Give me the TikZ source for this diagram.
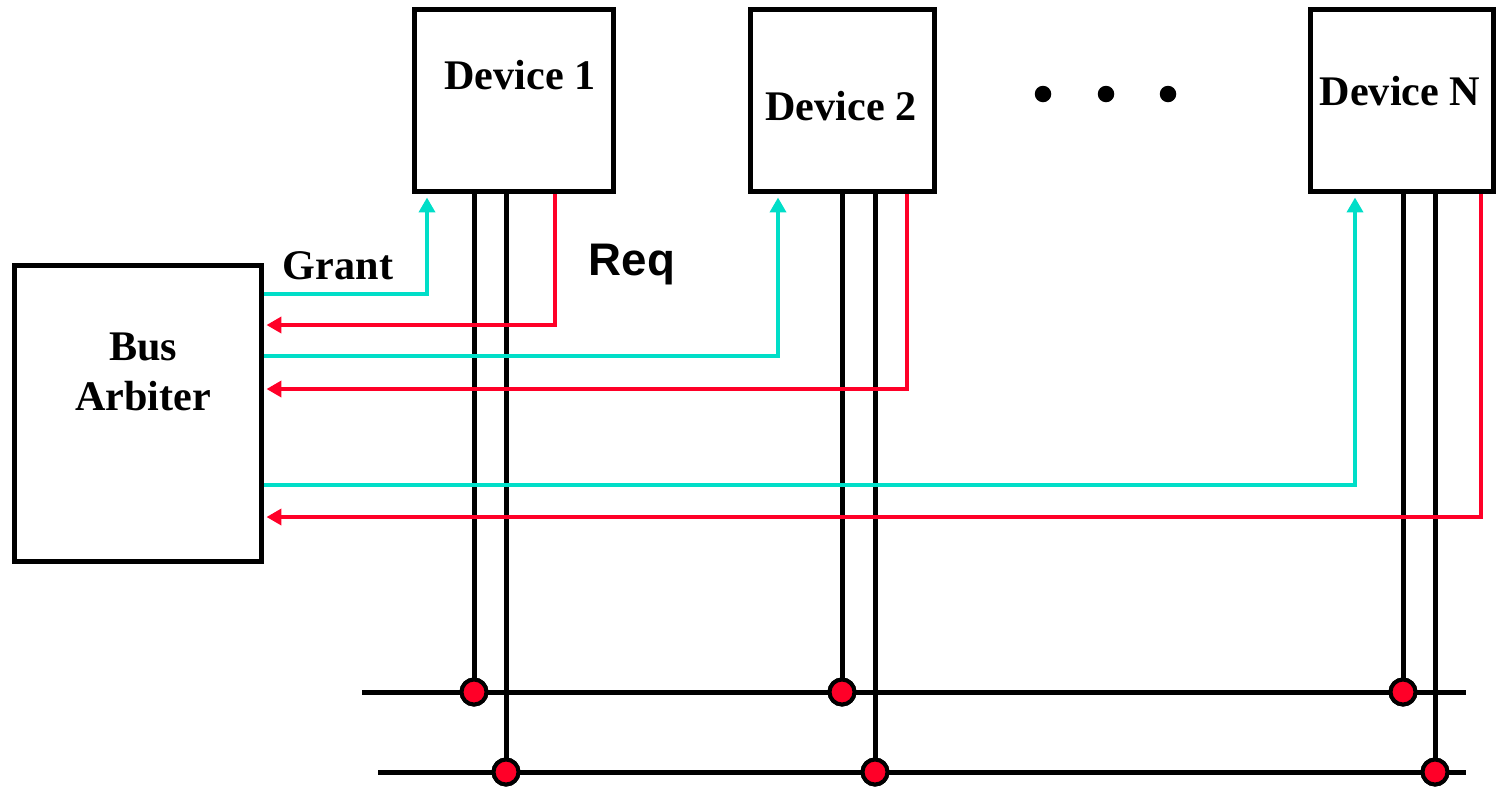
\documentclass[tikz,border=0pt]{standalone}
\usepackage{fontspec}
\setmainfont{Liberation Serif}
\newfontfamily\reqfont{Liberation Sans}
\usepackage{xcolor}
\usepackage{tikz}
\usetikzlibrary{arrows.meta, calc}
\definecolor{grantc}{RGB}{0,222,200}
\definecolor{reqc}{RGB}{255,0,40}
\begin{document}
\begin{tikzpicture}[x=0.02cm,y=-0.02cm,
    box/.style={draw,line width=0.1cm,rectangle,inner sep=0pt},
    lbl/.style={font=\fontsize{24}{29}\selectfont\bfseries,inner sep=0pt},
    wire/.style={line width=0.1cm,black},
    grant/.style={line width=0.085cm,grantc,-{Triangle[length=0.3cm,width=0.32cm]},shorten >=0.06cm},
    req/.style={line width=0.085cm,reqc,-{Triangle[length=0.3cm,width=0.32cm]},shorten >=0.04cm},
    tap/.style={circle,draw,line width=0.08cm,fill=reqc,minimum size=0.5cm,inner sep=0pt},
    dot/.style={circle,fill=black,minimum size=0.33cm,inner sep=0pt}]
            \useasboundingbox (0,0) rectangle (1497,789);
            \node[box,minimum width=4.96cm,minimum height=5.94cm] (arb) at (138,413.5) {};
            \node[box,minimum width=4.0cm,minimum height=3.66cm] (d1) at (514,100.5) {};
            \node[box,minimum width=3.7cm,minimum height=3.66cm] (d2) at (842.5,100.5) {};
            \node[box,minimum width=3.66cm,minimum height=3.66cm] (dn) at (1401.5,100.5) {};
            \node[lbl] (t1) at (520,75) {Device 1};
            \node[lbl] (t2) at (841,106) {Device 2};
            \node[lbl] (tn) at (1400,91) {Device N};
            \node[lbl,align=center,font=\fontsize{24}{28.5}\selectfont\bfseries] (tarb) at (143,372) {Bus\\Arbiter};
            \node[lbl] (tg) at (338,266) {Grant};
            \node[inner sep=0pt,font=\fontsize{26}{30}\selectfont\reqfont\bfseries] (tr) at (632,265) {Req};
            \node[dot] (e1) at (1043,94) {};
            \node[dot] (e2) at (1106,94) {};
            \node[dot] (e3) at (1168,94) {};
            \coordinate (a1) at (362,692);
            \coordinate (a2) at (1466,692);
            \coordinate (b1) at (378,772);
            \coordinate (b2) at (1466,772);
            \draw[wire] (a1) -- (a2);
            \draw[wire] (b1) -- (b2);
            \node[tap] (p11) at (474,692) {};
            \node[tap] (p12) at (506,772) {};
            \node[tap] (p21) at (842,692) {};
            \node[tap] (p22) at (875,772) {};
            \node[tap] (pn1) at (1403,692) {};
            \node[tap] (pn2) at (1435,772) {};
            \draw[wire] (d1.south -| p11) -- (p11.north);
            \draw[wire] (d1.south -| p12) -- (p12.north);
            \draw[wire] (d2.south -| p21) -- (p21.north);
            \draw[wire] (d2.south -| p22) -- (p22.north);
            \draw[wire] (dn.south -| pn1) -- (pn1.north);
            \draw[wire] (dn.south -| pn2) -- (pn2.north);
            \coordinate (g1) at (427,294);
            \coordinate (g2) at (778,356);
            \coordinate (gn) at (1355,485);
            \coordinate (r1) at (555,325);
            \coordinate (r2) at (907,389);
            \coordinate (rn) at (1481,517);
            \draw[grant] (arb.east |- g1) -| (d1.south -| g1);
            \draw[grant] (arb.east |- g2) -| (d2.south -| g2);
            \draw[grant] (arb.east |- gn) -| (dn.south -| gn);
            \draw[req] (d1.south -| r1) |- (arb.east |- r1);
            \draw[req] (d2.south -| r2) |- (arb.east |- r2);
            \draw[req] (dn.south -| rn) |- (arb.east |- rn);
            \node[tap] at (p11) {};
            \node[tap] at (p12) {};
            \node[tap] at (p21) {};
            \node[tap] at (p22) {};
            \node[tap] at (pn1) {};
            \node[tap] at (pn2) {};
\end{tikzpicture}
\end{document}
